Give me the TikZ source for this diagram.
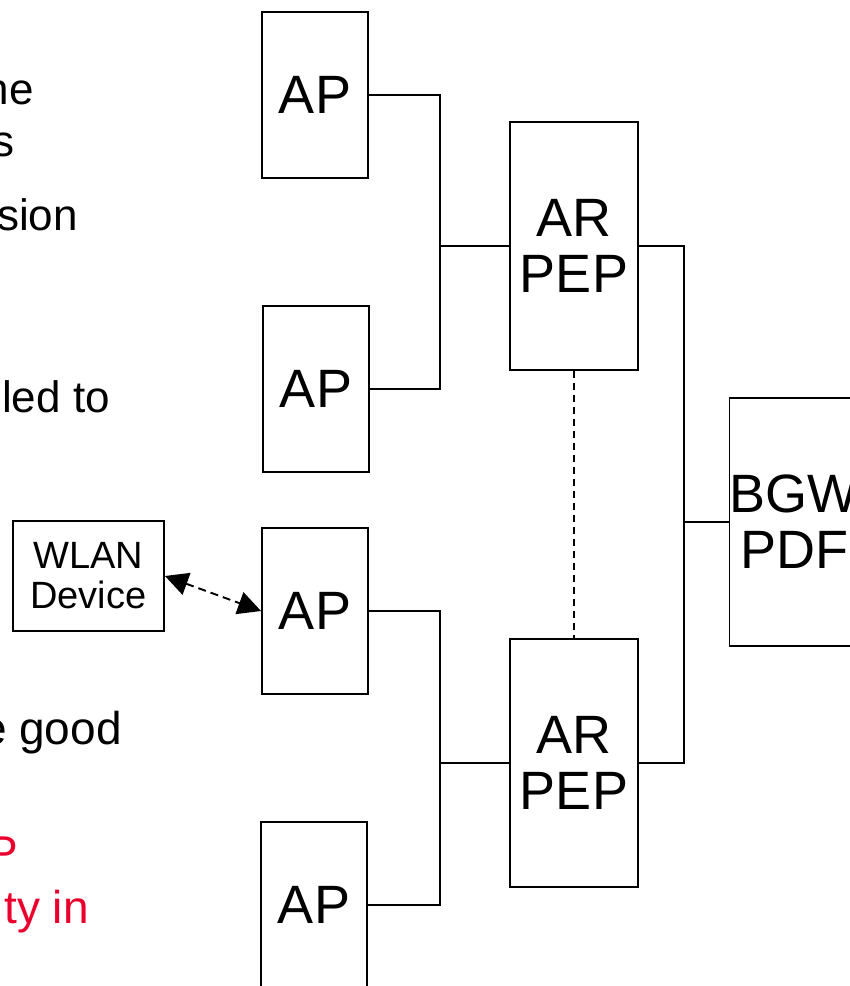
\documentclass[tikz,border=0pt]{standalone}
\usepackage{fontspec}
\setmainfont{Liberation Sans}
\usepackage{tikz}
\usetikzlibrary{arrows.meta, positioning}
\usepackage{xcolor}
\definecolor{slidered}{RGB}{235,0,45}

\begin{document}
\begin{tikzpicture}[
    x=1pt, y=-1pt,
    box/.style={draw, line width=1.9pt, inner sep=0pt, align=center, font=\fontsize{54}{56}\selectfont},
    ap/.style={box, minimum width=106pt, minimum height=166pt},
    router/.style={box, minimum width=128pt, minimum height=248pt},
    wire/.style={line width=1.9pt},
    bullet/.style={anchor=base east, inner sep=0pt, font=\fontsize{44}{48}\selectfont},
    bulletbig/.style={bullet, font=\fontsize{46}{50}\selectfont}
]
\useasboundingbox (0,0) rectangle (850,986);
\clip (0,0) rectangle (850,986);

% slide text cut off at the left edge
\node[bullet] (he) at (34,104) {he};
\node[bullet] (ss) at (15,156) {s};
\node[bullet] (sion) at (78,230) {sion};
\node[bullet] (ledto) at (110,412) {led to};
\node[bulletbig] (good) at (122,744) {e good};
\node[bulletbig, text=slidered] (pp) at (18,868) {P};
\node[bulletbig, text=slidered] (tyin) at (89,923) {ty in};

% access points, routers, gateway
\node[ap] (ap1) at (315,95) {AP};
\node[ap] (ap2) at (316,389) {AP};
\node[ap] (ap3) at (315,611) {AP};
\node[ap] (ap4) at (314,905) {AP};
\node[router] (arpep1) at (574,246) {AR\\PEP};
\node[router] (arpep2) at (574,763) {AR\\PEP};
\node[router] (bgw) at (794,522) {BGW\\PDF};
\node[box, minimum width=151pt, minimum height=110pt, font=\fontsize{38}{40}\selectfont] (wlan) at (88.5,576) {WLAN\\Device};

\coordinate (jtop) at (440,246);
\coordinate (jbot) at (440,763);
\coordinate (jright) at (684,522);

\draw[wire] (ap1.east) -| (jtop) |- (ap2.east);
\draw[wire] (jtop) -- (arpep1.west);
\draw[wire] (ap3.east) -| (jbot) |- (ap4.east);
\draw[wire] (jbot) -- (arpep2.west);
\draw[wire] (arpep1.east) -| (jright) |- (arpep2.east);
\draw[wire] (jright) -- (bgw.west);

\draw[line width=1.6pt, dash pattern=on 7pt off 5pt] (arpep1.south) -- (arpep2.north);
\draw[line width=1.9pt, dash pattern=on 8pt off 5pt, {Triangle[length=23pt,width=23pt]}-{Triangle[length=23pt,width=23pt]}] (wlan.east) -- (ap3.west);
\end{tikzpicture}
\end{document}
